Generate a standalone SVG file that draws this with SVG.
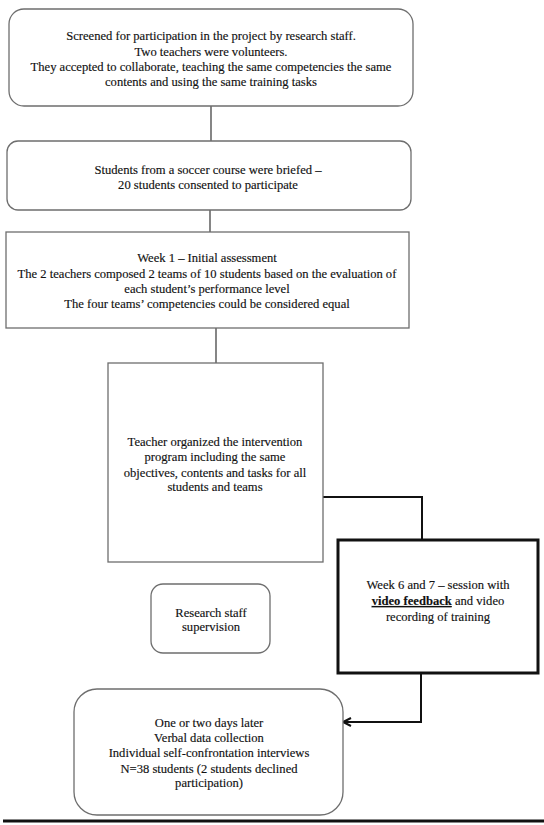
<svg xmlns="http://www.w3.org/2000/svg" width="544" height="825" viewBox="0 0 544 825">
<style>
.box{fill:#fff;stroke:#6e6e6e;stroke-width:1.3}
.thick{fill:#fff;stroke:#111;stroke-width:3}
.t{font-family:"Liberation Serif","Times New Roman",serif;font-size:12.6px;fill:#111;stroke:#111;stroke-width:0.15;text-anchor:middle}
.c1{fill:none;stroke:#444;stroke-width:1.3}
.c2{fill:none;stroke:#111;stroke-width:2}
</style>
<defs>
<marker id="arr" markerWidth="12" markerHeight="12" refX="9" refY="5" orient="auto" markerUnits="userSpaceOnUse">
<path d="M1,1 L9,5 L1,9" fill="none" stroke="#111" stroke-width="2"/>
</marker>
</defs>
<rect width="544" height="825" fill="#fff"/>
<g id="connectors">
<line class="c1" x1="211" y1="106" x2="211" y2="141"/>
<line class="c1" x1="210" y1="210" x2="210" y2="232"/>
<line class="c1" x1="216" y1="328" x2="216" y2="363"/>
<polyline class="c2" points="323,497 422,497 422,540"/>
<polyline class="c2" points="421,673 421,722 343,722" marker-end="url(#arr)"/>
</g>
<g id="n1">
<rect class="box" x="9" y="9" width="404" height="97" rx="15"/>
<text class="t" x="211" y="40">Screened for participation in the project by research staff.</text>
<text class="t" x="211" y="56">Two teachers were volunteers.</text>
<text class="t" x="211" y="71">They accepted to collaborate, teaching the same competencies the same</text>
<text class="t" x="211" y="86">contents and using the same training tasks</text>
</g>
<g id="n2">
<rect class="box" x="7" y="141" width="404" height="69" rx="11"/>
<text class="t" x="208" y="174">Students from a soccer course were briefed –</text>
<text class="t" x="208" y="189">20 students consented to participate</text>
</g>
<g id="n3">
<rect class="box" x="6" y="232" width="403" height="96"/>
<text class="t" x="207" y="262">Week 1 – Initial assessment</text>
<text class="t" x="207" y="278">The 2 teachers composed 2 teams of 10 students based on the evaluation of</text>
<text class="t" x="207" y="293">each student’s performance level</text>
<text class="t" x="207" y="308">The four teams’ competencies could be considered equal</text>
</g>
<g id="n4">
<rect class="box" x="108" y="363" width="215" height="199"/>
<text class="t" x="215" y="446">Teacher organized the intervention</text>
<text class="t" x="215" y="461">program including the same</text>
<text class="t" x="215" y="477">objectives, contents and tasks for all</text>
<text class="t" x="215" y="491">students and teams</text>
</g>
<g id="n5">
<rect class="thick" x="338" y="540" width="200" height="133"/>
<text class="t" x="438" y="589">Week 6 and 7 – session with</text>
<text class="t" x="438" y="605"><tspan font-weight="bold" text-decoration="underline">video feedback</tspan> and video</text>
<text class="t" x="438" y="621">recording of training</text>
</g>
<g id="n6">
<rect class="box" x="151" y="584" width="119" height="69" rx="12"/>
<text class="t" x="211" y="617">Research staff</text>
<text class="t" x="211" y="631">supervision</text>
</g>
<g id="n7">
<rect class="box" x="74" y="689" width="269" height="126" rx="23"/>
<text class="t" x="209" y="727">One or two days later</text>
<text class="t" x="209" y="742">Verbal data collection</text>
<text class="t" x="209" y="757">Individual self-confrontation interviews</text>
<text class="t" x="209" y="773">N=38 students (2 students declined</text>
<text class="t" x="209" y="787">participation)</text>
</g>
<line x1="3" y1="821" x2="544" y2="821" stroke="#111" stroke-width="3"/>
</svg>
